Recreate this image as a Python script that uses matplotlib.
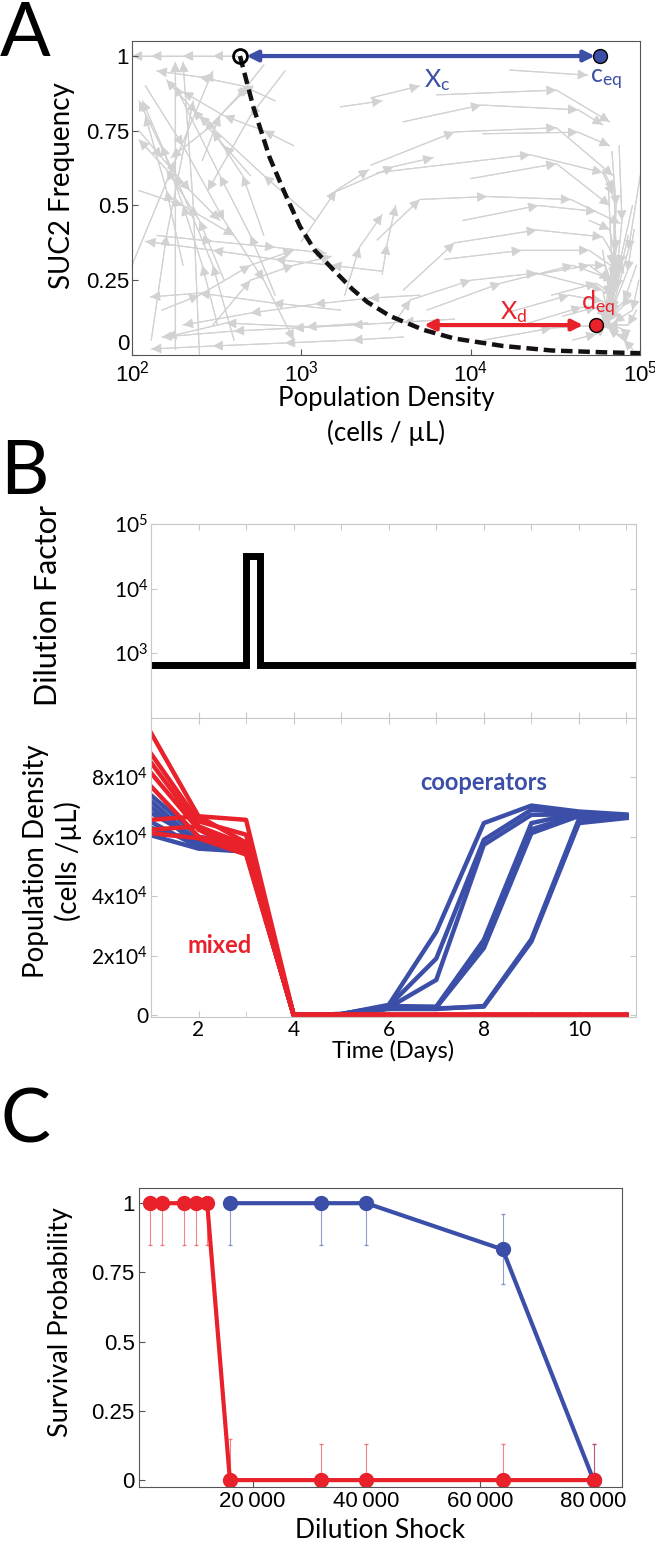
import matplotlib
matplotlib.use('Agg')
import matplotlib.pyplot as plt
from matplotlib.ticker import NullLocator

plt.rcParams['font.family'] = ['Liberation Sans', 'DejaVu Sans']
plt.rcParams['mathtext.default'] = 'regular'

BLUE = '#3c4fa8'
RED = '#e8212a'
GRAY = '#d2d2d2'
LABEL_FONT = ['Lato', 'DejaVu Sans']

# ---------------- Panel A data ----------------
# separatrix (dashed)
curve_density = [434, 520, 650, 800, 980, 1200, 1550, 2000, 2450, 3340, 5250, 8000,
                 15500, 30000, 60000, 100000]
curve_freq = [1.0, 0.83, 0.66, 0.54, 0.43, 0.35, 0.284, 0.22, 0.177, 0.13, 0.084, 0.055,
              0.03, 0.015, 0.009, 0.006]

unstable_pt = (434, 1.0)
coop_eq = (58000, 1.0)
defect_eq = (55000, 0.1)

# gray trajectories (population density, SUC2 frequency)
traj_density = [
    [2570, 5000], [17000, 49000], [6300, 32000, 66000], [4000, 11500, 43000, 60000],
    [11800, 43000, 66000], [2570, 8000, 32000, 69000], [2800, 22400, 60000, 69000],
    [10000, 32000, 66000], [2800, 5000, 12500, 39000, 76000], [4000, 8000, 24500, 60000, 80000],
    [7000, 20000, 50000, 75000], [3300, 4400, 10000, 24500, 60000, 66000],
    [16000, 38000, 60000, 66000], [1000, 1600, 2500], [1800, 2200, 3000], [3000, 3200, 3600],
    [1500, 3500, 6000], [1700, 3000], [9000, 25000, 55000], [5500, 15000, 40000, 70000],
    [90000, 75000, 60000], [95000, 80000, 62000], [85000, 72000, 60000], [95000, 85000, 64000],
    [90000, 80000, 65000], [70000, 70000, 62000], [65000, 68000, 61000], [40000, 55000, 62000],
    [100000, 85000, 68000], [98000, 90000, 70000], [80000, 76000, 63000], [60000, 66000, 60000],
    [68000, 72000, 70000, 62000], [60000, 70000, 72000, 64000], [50000, 66000, 74000, 66000],
    [75000, 78000, 72000, 62000], [45000, 62000, 70000, 63000], [30000, 55000, 70000, 62000],
    [20000, 45000, 68000, 60000], [12000, 30000, 60000, 58000], [25000, 50000, 66000],
    [35000, 55000, 64000], [88000, 78000, 66000], [82000, 74000, 64000], [92000, 84000, 67000],
    [420, 300, 200, 130, 100], [100, 180, 300], [400, 300, 180, 110], [250, 230, 200],
    [180, 180], [700, 450, 250, 140], [120, 200, 350, 600, 900], [900, 600, 350, 200],
    [600, 450, 300], [150, 250, 500, 900], [350, 250, 160, 110], [110, 200, 400],
    [500, 350, 230, 160], [800, 500, 280], [130, 160, 230], [2460, 1070, 360, 160],
    [1700, 680, 250, 128], [3000, 1500, 700, 300, 120], [5000, 2500, 1200, 500, 200],
    [8000, 4000, 2000, 900, 400, 150], [4000, 2000, 800, 300, 130], [1200, 600, 250],
    [300, 500, 900, 1500], [140, 300, 700, 1400], [200, 160, 120], [700, 500, 330, 180],
    [110, 150, 220, 330], [320, 260, 200, 150, 115], [600, 420, 270, 170], [260, 330, 480],
]
traj_freq = [
    [0.86, 0.90], [0.953, 0.936], [0.87, 0.886, 0.78], [0.78, 0.836, 0.82, 0.77],
    [0.74, 0.745, 0.70], [0.635, 0.746, 0.76, 0.6], [0.61, 0.67, 0.61, 0.535],
    [0.59, 0.64, 0.5], [0.385, 0.52, 0.53, 0.52, 0.44], [0.217, 0.375, 0.418, 0.395, 0.274],
    [0.32, 0.35, 0.35, 0.28], [0.084, 0.184, 0.25, 0.274, 0.217, 0.107],
    [0.14, 0.2, 0.18, 0.11], [0.38, 0.55, 0.62], [0.2, 0.36, 0.47], [0.27, 0.37, 0.5],
    [0.54, 0.63, 0.66], [0.83, 0.85], [0.45, 0.5, 0.48], [0.15, 0.24, 0.3, 0.25],
    [0.5, 0.3, 0.12], [0.3, 0.18, 0.11], [0.4, 0.22, 0.12], [0.15, 0.1, 0.1],
    [0.02, 0.05, 0.09], [0.45, 0.25, 0.12], [0.55, 0.3, 0.12], [0.05, 0.07, 0.095],
    [0.6, 0.35, 0.15], [0.25, 0.15, 0.11], [0.08, 0.09, 0.1], [0.35, 0.2, 0.11],
    [0.68, 0.5, 0.3, 0.12], [0.62, 0.55, 0.35, 0.13], [0.45, 0.42, 0.28, 0.12],
    [0.7, 0.45, 0.25, 0.11], [0.3, 0.3, 0.22, 0.11], [0.2, 0.24, 0.2, 0.1],
    [0.1, 0.16, 0.15, 0.1], [0.05, 0.09, 0.1, 0.1], [0.27, 0.3, 0.25],
    [0.13, 0.16, 0.13], [0.2, 0.16, 0.12], [0.06, 0.07, 0.1], [0.42, 0.28, 0.14],
    [1.0, 1.0, 1.0, 1.0, 1.0], [0.3, 0.65, 0.95], [0.05, 0.3, 0.6, 0.85], [0.0, 0.5, 0.98],
    [0.02, 0.98], [0.85, 0.9, 0.93, 0.95], [0.9, 0.7, 0.45, 0.25, 0.05], [0.7, 0.75, 0.8, 0.88],
    [0.4, 0.6, 0.75], [0.15, 0.2, 0.3, 0.35], [0.25, 0.45, 0.62, 0.72], [0.55, 0.5, 0.4],
    [0.6, 0.7, 0.82, 0.92], [0.95, 0.8, 0.55], [0.05, 0.4, 0.85], [0.107, 0.094, 0.107, 0.06],
    [0.15, 0.174, 0.207, 0.194], [0.28, 0.3, 0.32, 0.35, 0.38], [0.2, 0.19, 0.17, 0.14, 0.1],
    [0.12, 0.11, 0.1, 0.09, 0.08, 0.06], [0.06, 0.05, 0.04, 0.03, 0.02], [0.45, 0.6, 0.8],
    [0.1, 0.25, 0.3, 0.33], [0.4, 0.38, 0.36, 0.34], [0.3, 0.55, 0.8], [0.2, 0.4, 0.6, 0.9],
    [0.75, 0.66, 0.55, 0.45], [0.1, 0.3, 0.5, 0.7, 0.85], [0.97, 0.86, 0.75, 0.66],
    [0.65, 0.8, 0.9],
]

# ---------------- Panel B data ----------------
dilution_days = [1, 3.0, 3.0, 3.3, 3.3, 11.2]
dilution_factor = [670, 670, 32000, 32000, 670, 670]

days = [1, 2, 3, 4, 5, 6, 7, 8, 9, 10, 11]
mixed_density = [
    [95000, 66900, 65700, 0, 0, 0, 0, 0, 0, 0, 0],
    [88000, 65200, 60700, 0, 0, 0, 0, 0, 0, 0, 0],
    [85000, 63500, 57300, 0, 0, 0, 0, 0, 0, 0, 0],
    [81500, 62400, 54500, 0, 0, 0, 0, 0, 0, 0, 0],
    [77000, 60000, 56000, 0, 0, 0, 0, 0, 0, 0, 0],
    [65700, 66900, 58000, 0, 0, 0, 0, 0, 0, 0, 0],
    [62400, 63500, 55500, 0, 0, 0, 0, 0, 0, 0, 0],
    [61200, 59500, 54000, 0, 0, 0, 0, 0, 0, 0, 0],
]
coop_density = [
    [74000, 60000, 57000, 0, 300, 3400, 28000, 64600, 70500, 68500, 67500],
    [72000, 58000, 56000, 0, 300, 3000, 19000, 59000, 69100, 68000, 67000],
    [70000, 57000, 55500, 0, 200, 2500, 11800, 57300, 67400, 67500, 66500],
    [68000, 59000, 57500, 0, 300, 3000, 2800, 25300, 64600, 68000, 67000],
    [65000, 56500, 55000, 0, 200, 2800, 2500, 22500, 61200, 67000, 66500],
    [63000, 58000, 56000, 0, 200, 2500, 2600, 24000, 62500, 67500, 67200],
    [61000, 60000, 57000, 0, 100, 2200, 2200, 2800, 24700, 64600, 66300],
    [60500, 56000, 55000, 0, 100, 2000, 2000, 3000, 25500, 66000, 66800],
]

# ---------------- Panel C data ----------------
shock_mixed = [2000, 4000, 8000, 10000, 12000, 16000, 32000, 40000, 64000, 80000]
surv_mixed = [1, 1, 1, 1, 1, 0, 0, 0, 0, 0]
err_mixed_lo = [0.15, 0.15, 0.15, 0.15, 0.15, 0, 0, 0, 0, 0]
err_mixed_hi = [0, 0, 0, 0, 0, 0.15, 0.13, 0.13, 0.13, 0.13]
shock_coop = [16000, 32000, 40000, 64000, 80000]
surv_coop = [1, 1, 1, 0.833, 0]
err_coop_lo = [0.15, 0.15, 0.15, 0.125, 0]
err_coop_hi = [0, 0, 0, 0.127, 0.13]

fig = plt.figure(figsize=(6.55, 15.44), dpi=100)

# ================= Panel A =================
axA = fig.add_axes([0.2015, 0.7701, 0.776, 0.2033])
axA.set_xscale('log')
for dens, freq in zip(traj_density, traj_freq):
    axA.plot(dens, freq, color=GRAY, lw=0.8, zorder=1)
    for i in range(len(dens) - 1):
        axA.annotate('', xy=(dens[i + 1], freq[i + 1]), xytext=(dens[i], freq[i]),
                     arrowprops=dict(arrowstyle='-|>', color=GRAY, lw=0.8,
                                     mutation_scale=15, shrinkA=0, shrinkB=0),
                     zorder=1)

axA.plot(curve_density, curve_freq, color='#151015', lw=3.2, ls=(0, (2.6, 1.3)), zorder=3)
axA.annotate('', xy=(54000, 1.0), xytext=(475, 1.0),
             arrowprops=dict(arrowstyle='<|-|>', color=BLUE, lw=3, mutation_scale=16,
                             shrinkA=0, shrinkB=0), zorder=4)
axA.annotate('', xy=(46000, 0.1), xytext=(5300, 0.1),
             arrowprops=dict(arrowstyle='<|-|>', color=RED, lw=3, mutation_scale=16,
                             shrinkA=0, shrinkB=0), zorder=4)
axA.plot(*unstable_pt, 'o', mfc='none', mec='k', mew=2, ms=10, zorder=5)
axA.plot(*coop_eq, 'o', mfc=BLUE, mec='k', mew=1, ms=10, zorder=5)
axA.plot(*defect_eq, 'o', mfc=RED, mec='k', mew=1, ms=10, zorder=5)

axA.text(6300, 0.92, r'X$_\mathregular{c}$', color=BLUE, fontsize=18, ha='center',
         va='center', family=LABEL_FONT)
axA.text(63000, 0.92, r'c$_\mathregular{eq}$', color=BLUE, fontsize=18, ha='center',
         va='center', family=LABEL_FONT)
axA.text(17800, 0.145, r'X$_\mathregular{d}$', color=RED, fontsize=18, ha='center',
         va='center', family=LABEL_FONT)
axA.text(56000, 0.17, r'd$_\mathregular{eq}$', color=RED, fontsize=18, ha='center',
         va='center', family=LABEL_FONT)

axA.set_xlim(100, 100000)
axA.set_ylim(0, 1.05)
axA.set_xticks([1e2, 1e3, 1e4, 1e5])
axA.set_xticklabels([r'10$^{2}$', r'10$^{3}$', r'10$^{4}$', r'10$^{5}$'], fontsize=17)
axA.xaxis.set_minor_locator(NullLocator())
axA.set_yticks([0, 0.25, 0.5, 0.75, 1])
axA.set_yticklabels(['0', '0.25', '0.5', '0.75', '1'])
axA.tick_params(direction='in', length=4, color='#555555', labelsize=16, pad=2)
axA.tick_params(axis='x', pad=4)
axA.get_yticklabels()[0].set_va('bottom')
for s in axA.spines.values():
    s.set_color('#555555')
axA.set_ylabel('SUC2 Frequency', fontsize=20, family=LABEL_FONT)
axA.yaxis.set_label_coords(-0.112, 0.54)
axA.set_xlabel('Population Density\n(cells / \u00b5L)', fontsize=18.5, family=LABEL_FONT,
               linespacing=1.4)
axA.xaxis.set_label_coords(0.5, -0.1)

# ================= Panel B =================
axB1 = fig.add_axes([0.2305, 0.535, 0.7405, 0.1256])
axB1.set_yscale('log')
axB1.plot(dilution_days, dilution_factor, color='k', lw=5, solid_joinstyle='miter')
axB1.set_xlim(1, 11.2)
axB1.set_ylim(100, 100000)
axB1.set_yticks([1e3, 1e4, 1e5])
axB1.set_yticklabels([r'10$^{3}$', r'10$^{4}$', r'10$^{5}$'], family=LABEL_FONT)
axB1.yaxis.set_minor_locator(NullLocator())
axB1.set_xticks(range(1, 12))
axB1.set_xticklabels([])
axB1.tick_params(direction='in', length=4, color='#c8c8c8', labelsize=15,
                 top=True, right=True, pad=2)
for s in axB1.spines.values():
    s.set_color('#c8c8c8')
axB1.set_ylabel('Dilution Factor', fontsize=22, family=LABEL_FONT)
axB1.yaxis.set_label_coords(-0.183, 0.58)

axB2 = fig.add_axes([0.2305, 0.3413, 0.7405, 0.1937])
for series in coop_density:
    axB2.plot(days, series, color=BLUE, lw=3.2)
for series in mixed_density:
    axB2.plot(days, series, color=RED, lw=3.2)
axB2.text(8.0, 78300, 'cooperators', color=BLUE, fontsize=17, fontweight='bold',
          ha='center', va='center', family=LABEL_FONT)
axB2.text(2.45, 23400, 'mixed', color=RED, fontsize=17, fontweight='bold',
          ha='center', va='center', family=LABEL_FONT)
axB2.set_xlim(1, 11.2)
axB2.set_ylim(-700, 100000)
axB2.set_xticks([2, 4, 6, 8, 10])
axB2.set_xticks([1, 3, 5, 7, 9, 11], minor=True)
axB2.set_yticks([0, 20000, 40000, 60000, 80000])
axB2.set_yticklabels(['0', r'2x10$^{4}$', r'4x10$^{4}$', r'6x10$^{4}$', r'8x10$^{4}$'],
                     family=LABEL_FONT)
axB2.set_xticklabels(['2', '4', '6', '8', '10'], family=LABEL_FONT)
axB2.tick_params(which='both', direction='in', length=4, color='#c8c8c8', labelsize=15,
                 top=True, right=True, pad=2)
for s in axB2.spines.values():
    s.set_color('#c8c8c8')
axB2.set_xlabel('Time (Days)', fontsize=17, family=LABEL_FONT)
axB2.xaxis.set_label_coords(0.5, -0.075)
axB2.set_ylabel('Population Density\n(cells /\u00b5L)', fontsize=20, family=LABEL_FONT,
                linespacing=1.25)
axB2.yaxis.set_label_coords(-0.142, 0.52)

# ================= Panel C =================
axC = fig.add_axes([0.2122, 0.0369, 0.7374, 0.1937])
axC.errorbar(shock_coop, surv_coop, yerr=[err_coop_lo, err_coop_hi], fmt='none',
             ecolor=BLUE, elinewidth=0.8, capsize=1.5, alpha=0.55)
axC.errorbar(shock_mixed, surv_mixed, yerr=[err_mixed_lo, err_mixed_hi], fmt='none',
             ecolor=RED, elinewidth=0.8, capsize=1.5, alpha=0.55)
axC.plot(shock_coop, surv_coop, '-o', color=BLUE, lw=3, ms=10)
axC.plot(shock_mixed, surv_mixed, '-o', color=RED, lw=3, ms=10)
axC.set_xlim(0, 85000)
axC.set_ylim(-0.025, 1.055)
axC.set_xticks([20000, 40000, 60000, 80000])
axC.set_xticklabels(['20\u2009000', '40\u2009000', '60\u2009000', '80\u2009000'])
axC.set_yticks([0, 0.25, 0.5, 0.75, 1])
axC.set_yticklabels(['0', '0.25', '0.5', '0.75', '1'])
axC.tick_params(direction='in', length=4, color='#555555', labelsize=16, pad=3)
for s in axC.spines.values():
    s.set_color('#555555')
axC.set_xlabel('Dilution Shock', fontsize=19, family=LABEL_FONT)
axC.xaxis.set_label_coords(0.5, -0.105)
axC.set_ylabel('Survival Probability', fontsize=19.5, family=LABEL_FONT)
axC.yaxis.set_label_coords(-0.137, 0.55)

# panel letters
fig.text(0.0, 1.0, 'A', fontsize=54, va='top', ha='left', family=LABEL_FONT)
fig.text(0.0, 0.716, 'B', fontsize=54, va='top', ha='left', family=LABEL_FONT)
fig.text(0.0, 0.296, 'C', fontsize=54, va='top', ha='left', family=LABEL_FONT)

fig.savefig('out.png', dpi=100)
